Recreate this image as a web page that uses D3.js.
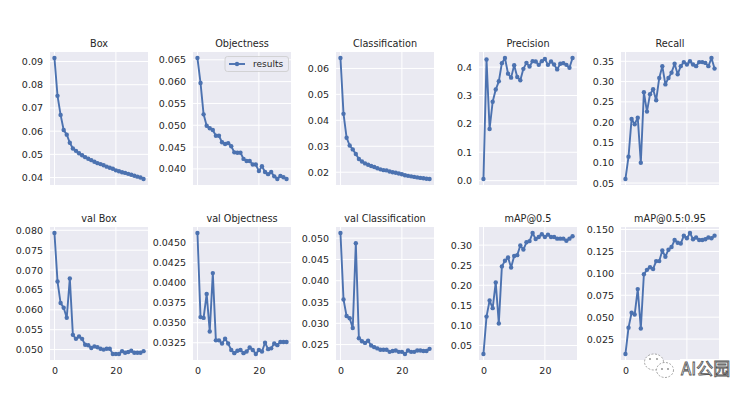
<!DOCTYPE html>
<html>
<head>
<meta charset="utf-8">
<script src="https://cdn.jsdelivr.net/npm/d3@7"></script>
<style>
  html, body { margin: 0; padding: 0; background: #fff; }
  svg { display: block; }
</style>
</head>
<body>
<svg id="chart" width="755" height="399"></svg>
<script>
// ---- data (30 epochs) ----
const epochs = d3.range(30);
const titles = ["Box", "Objectness", "Classification", "Precision", "Recall",
                "val Box", "val Objectness", "val Classification", "mAP@0.5", "mAP@0.5:0.95"];
const box = [0.0915,0.0752,0.0670,0.0605,0.0585,0.0550,0.0525,0.0515,0.0505,0.0496,0.0488,0.0481,0.0475,0.0468,0.0462,0.0458,0.0453,0.0447,0.0442,0.0438,0.0431,0.0427,0.0423,0.0420,0.0416,0.0412,0.0408,0.0404,0.0400,0.0394];
const objectness = [0.0654,0.0597,0.0525,0.0499,0.0493,0.0489,0.0476,0.0476,0.0461,0.0457,0.0459,0.0452,0.0438,0.0437,0.0437,0.0423,0.0418,0.0418,0.0410,0.0410,0.0395,0.0406,0.0393,0.0388,0.0393,0.0383,0.0377,0.0384,0.0381,0.0377];
const classification = [0.0640,0.0425,0.0333,0.0303,0.0288,0.0270,0.0251,0.0241,0.0234,0.0229,0.0224,0.0220,0.0215,0.0211,0.0208,0.0207,0.0203,0.0200,0.0198,0.0195,0.0192,0.0188,0.0186,0.0184,0.0182,0.0180,0.0178,0.0177,0.0175,0.0174];
const precision = [0.006,0.427,0.182,0.278,0.321,0.350,0.414,0.432,0.377,0.363,0.407,0.365,0.354,0.394,0.415,0.402,0.421,0.420,0.408,0.421,0.429,0.408,0.420,0.409,0.392,0.412,0.414,0.408,0.398,0.432];
const recall = [0.060,0.115,0.208,0.195,0.211,0.100,0.274,0.226,0.269,0.281,0.254,0.309,0.338,0.293,0.309,0.322,0.344,0.318,0.338,0.348,0.342,0.350,0.342,0.338,0.348,0.348,0.346,0.338,0.358,0.332];
const valBox = [0.0793,0.0671,0.0617,0.0605,0.0580,0.0679,0.0537,0.0527,0.0533,0.0527,0.0512,0.0511,0.0504,0.0508,0.0506,0.0502,0.0500,0.0502,0.0502,0.0489,0.0489,0.0489,0.0496,0.0492,0.0494,0.0497,0.0492,0.0492,0.0492,0.0496];
const valObjectness = [0.0462,0.0357,0.0356,0.0386,0.0339,0.0412,0.0328,0.0328,0.0324,0.0330,0.0324,0.0316,0.0312,0.0315,0.0316,0.0312,0.0314,0.0319,0.0316,0.0311,0.0316,0.0314,0.0325,0.0317,0.0318,0.0324,0.0322,0.0326,0.0326,0.0326];
const valClassification = [0.0512,0.0356,0.0317,0.0312,0.0289,0.0488,0.0265,0.0258,0.0254,0.0259,0.0248,0.0244,0.0241,0.0238,0.0238,0.0238,0.0233,0.0235,0.0236,0.0233,0.0233,0.0228,0.0236,0.0233,0.0233,0.0236,0.0236,0.0235,0.0235,0.0240];
const map50 = [0.029,0.122,0.162,0.143,0.207,0.105,0.247,0.261,0.269,0.244,0.273,0.275,0.299,0.289,0.307,0.310,0.330,0.315,0.320,0.327,0.320,0.326,0.320,0.320,0.316,0.316,0.316,0.311,0.316,0.322];
const map5095 = [0.008,0.038,0.055,0.053,0.082,0.037,0.099,0.104,0.107,0.105,0.114,0.114,0.126,0.119,0.127,0.130,0.138,0.135,0.134,0.143,0.140,0.146,0.139,0.141,0.138,0.138,0.139,0.141,0.140,0.143];

// tick labels
const xTicks = [0, 20];
const boxTicks = [0.04,0.05,0.06,0.07,0.08,0.09];
const objTicks = [0.040,0.045,0.050,0.055,0.060,0.065];
const clsTicks = [0.02,0.03,0.04,0.05,0.06];
const precTicks = [0.0,0.1,0.2,0.3,0.4];
const recTicks = [0.05,0.10,0.15,0.20,0.25,0.30,0.35];
const valBoxTicks = [0.050,0.055,0.060,0.065,0.070,0.075,0.080];
const valObjTicks = [0.0325,0.0350,0.0375,0.0400,0.0425,0.0450];
const valClsTicks = [0.025,0.030,0.035,0.040,0.045,0.050];
const map50Ticks = [0.05,0.10,0.15,0.20,0.25,0.30];
const map5095Ticks = [0.025,0.050,0.075,0.100,0.125,0.150];
const legendLabel = "results";
const watermarkText = "AI公园";

const panels = [
  {t: titles[0], v: box, ticks: boxTicks, fmt: ".2f"},
  {t: titles[1], v: objectness, ticks: objTicks, fmt: ".3f", legend: true},
  {t: titles[2], v: classification, ticks: clsTicks, fmt: ".2f"},
  {t: titles[3], v: precision, ticks: precTicks, fmt: ".1f"},
  {t: titles[4], v: recall, ticks: recTicks, fmt: ".2f"},
  {t: titles[5], v: valBox, ticks: valBoxTicks, fmt: ".3f"},
  {t: titles[6], v: valObjectness, ticks: valObjTicks, fmt: ".4f"},
  {t: titles[7], v: valClassification, ticks: valClsTicks, fmt: ".3f"},
  {t: titles[8], v: map50, ticks: map50Ticks, fmt: ".2f"},
  {t: titles[9], v: map5095, ticks: map5095Ticks, fmt: ".3f"}
];

// ---- layout ----
const colLeft = [50, 193, 336, 479, 621];
const pw = 98;
const rowTop = [52, 227];
const ph = 133;
const lineColor = "#4C72B0";
const textColor = "#262626";
const font = "DejaVu Sans, sans-serif";

const svg = d3.select("#chart");

function padExtent(arr) {
  const [a, b] = d3.extent(arr);
  const m = (b - a) * 0.05;
  return [a - m, b + m];
}

panels.forEach((p, i) => {
  const row = Math.floor(i / 5), col = i % 5;
  const g = svg.append("g").attr("transform", `translate(${colLeft[col]},${rowTop[row]})`);
  const x = d3.scaleLinear().domain(padExtent(epochs)).range([0, pw]);
  const y = d3.scaleLinear().domain(padExtent(p.v)).range([ph, 0]);

  g.append("rect").attr("width", pw).attr("height", ph).attr("fill", "#EAEAF2");

  // grid
  g.append("g").selectAll("line").data(p.ticks).join("line")
    .attr("x1", 0).attr("x2", pw)
    .attr("y1", d => y(d)).attr("y2", d => y(d))
    .attr("stroke", "#fff").attr("stroke-width", 1);
  g.append("g").selectAll("line").data(xTicks).join("line")
    .attr("y1", 0).attr("y2", ph)
    .attr("x1", d => x(d)).attr("x2", d => x(d))
    .attr("stroke", "#fff").attr("stroke-width", 1);

  // y axis
  const ya = d3.axisLeft(y).tickValues(p.ticks).tickFormat(d3.format(p.fmt)).tickSize(0).tickPadding(7);
  const yg = g.append("g").call(ya);
  yg.select(".domain").remove();
  yg.selectAll("text").attr("fill", textColor).style("font-family", font).style("font-size", "9.5px");

  // x axis (bottom row only)
  if (row === 1) {
    const xa = d3.axisBottom(x).tickValues(xTicks).tickFormat(d3.format("d")).tickSize(0).tickPadding(7);
    const xg = g.append("g").attr("transform", `translate(0,${ph})`).call(xa);
    xg.select(".domain").remove();
    xg.selectAll("text").attr("fill", textColor).style("font-family", font).style("font-size", "9.5px");
  }

  // line + markers
  const line = d3.line().x((d, j) => x(epochs[j])).y(d => y(d));
  g.append("path").datum(p.v).attr("d", line)
    .attr("fill", "none").attr("stroke", lineColor).attr("stroke-width", 1.9).attr("stroke-linejoin", "round");
  g.append("g").selectAll("circle").data(p.v).join("circle")
    .attr("cx", (d, j) => x(epochs[j])).attr("cy", d => y(d)).attr("r", 2.2)
    .attr("fill", lineColor);

  // title
  g.append("text").attr("x", pw / 2).attr("y", -5).attr("text-anchor", "middle")
    .attr("fill", textColor).style("font-family", font).style("font-size", "9.7px").text(p.t);

  // legend
  if (p.legend) {
    const lg = g.append("g").attr("transform", `translate(${pw - 66},${4.5})`);
    lg.append("rect").attr("width", 63.5).attr("height", 15).attr("rx", 2.5)
      .attr("fill", "#EAEAF2").attr("fill-opacity", 0.8).attr("stroke", "#cccccc").attr("stroke-width", 0.8);
    lg.append("line").attr("x1", 4).attr("x2", 20).attr("y1", 7.5).attr("y2", 7.5)
      .attr("stroke", lineColor).attr("stroke-width", 1.9);
    lg.append("circle").attr("cx", 12).attr("cy", 7.5).attr("r", 2.2).attr("fill", lineColor);
    lg.append("text").attr("x", 28).attr("y", 10.8).attr("fill", textColor)
      .style("font-family", font).style("font-size", "9px").text(legendLabel);
  }
});

// watermark (drawn over the last panel's "20" label, as in the reference)
const wm = svg.append("g");
wm.append("ellipse").attr("cx", 654).attr("cy", 362).attr("rx", 9.5).attr("ry", 8)
  .attr("fill", "#fff").attr("stroke", "#9a9a9a").attr("stroke-width", 0.9).attr("stroke-dasharray", "2,1.5");
wm.append("ellipse").attr("cx", 665).attr("cy", 370).attr("rx", 8.5).attr("ry", 7.5)
  .attr("fill", "#fff").attr("stroke", "#9a9a9a").attr("stroke-width", 0.9).attr("stroke-dasharray", "2,1.5");
[[650,359],[657,359],[662,369],[668,369]].forEach(c =>
  wm.append("circle").attr("cx", c[0]).attr("cy", c[1]).attr("r", 0.9).attr("fill", "#888"));
wm.append("rect").attr("x", 680).attr("y", 359).attr("width", 50).attr("height", 19).attr("fill", "#fff");
wm.append("text").attr("x", 681).attr("y", 375)
  .attr("fill", "#f2f2f2").attr("stroke", "#555").attr("stroke-width", 0.8)
  .style("font-family", "Noto Sans CJK SC, sans-serif").style("font-size", "17px").text(watermarkText);
</script>
</body>
</html>
